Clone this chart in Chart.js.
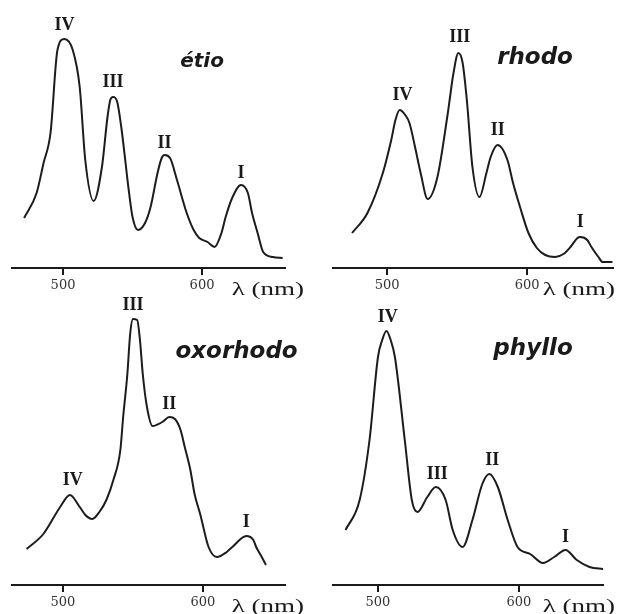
<!DOCTYPE html>
<html>
<head>
    <title>Spectres d'absorption des porphyrines</title>
    <style>
        html, body { margin: 0; padding: 0; background: #fff; overflow: hidden; }
        .page { position: relative; width: 621px; height: 614px; }
        canvas { position: absolute; }
    </style>
</head>
<body>
    <div class="page">
        <canvas id="etio" width="310" height="307" style="left:0;top:0"></canvas>
        <canvas id="rhodo" width="311" height="307" style="left:310px;top:0"></canvas>
        <canvas id="oxorhodo" width="310" height="326" style="left:0;top:289px"></canvas>
        <canvas id="phyllo" width="311" height="326" style="left:310px;top:289px"></canvas>
    </div>

    <script src="https://cdn.jsdelivr.net/npm/chart.js"></script>
    <script>
        // wavelength (nm) and relative absorbance
        var etioWl  = [472, 481, 486, 491, 496, 501, 507, 512, 516, 522, 528, 532, 534, 536, 539, 542, 545, 547, 550, 554, 559, 563, 568, 571, 573, 577, 582, 589, 594, 598, 604, 609, 614, 617, 622, 628, 633, 636, 640, 644, 651, 658];
        var etioAbs = [50, 75, 105, 135, 218, 229, 218, 181, 108, 67, 101, 151, 168, 171, 166, 140, 105, 81, 51, 38, 45, 61, 95, 110, 113, 110, 88, 55, 38, 30, 26, 21, 35, 51, 71, 83, 75, 55, 35, 16, 11, 10];

        var rhodoWl  = [475, 486, 497, 503, 506, 509, 513, 516, 520, 524, 529, 536, 543, 545, 547, 551, 554, 557, 561, 566, 571, 574, 579, 586, 590, 595, 601, 607, 613, 620, 626, 631, 636, 638, 643, 646, 651, 654, 661];
        var rhodoAbs = [35, 55, 95, 128, 148, 158, 153, 145, 121, 95, 69, 91, 151, 171, 191, 215, 205, 168, 101, 71, 95, 111, 123, 108, 85, 61, 35, 20, 13, 11, 14, 21, 30, 31, 28, 21, 11, 6, 6];

        var oxoWl  = [474, 486, 498, 505, 512, 516, 521, 526, 531, 536, 541, 543, 546, 548, 550, 553, 555, 557, 560, 564, 571, 576, 580, 584, 587, 591, 594, 598, 604, 610, 617, 621, 631, 636, 638, 642, 645];
        var oxoAbs = [36, 51, 78, 90, 78, 70, 66, 73, 85, 105, 135, 168, 211, 251, 266, 265, 245, 211, 178, 159, 163, 168, 166, 155, 138, 115, 91, 71, 38, 28, 33, 38, 49, 45, 38, 28, 20];

        var phylloWl  = [477, 487, 494, 500, 503, 506, 509, 512, 519, 524, 528, 535, 541, 548, 553, 560, 567, 574, 579, 585, 592, 599, 608, 617, 625, 633, 641, 650, 660];
        var phylloAbs = [55, 85, 145, 228, 245, 254, 245, 228, 145, 85, 73, 88, 98, 85, 55, 38, 65, 101, 111, 98, 65, 38, 31, 22, 28, 35, 25, 18, 16];

        // peak labels IV, III, II, I : position (nm, absorbance)
        var peakNames = ['IV', 'III', 'II', 'I'];
        var etioPeakWl    = [501, 536, 573, 628];
        var etioPeakAbs   = [243, 186, 125, 95];
        var rhodoPeakWl   = [511, 552, 579, 638];
        var rhodoPeakAbs  = [173, 231, 138, 46];
        var oxoPeakWl     = [507, 550, 576, 631];
        var oxoPeakAbs    = [105, 280, 181, 63];
        var phylloPeakWl  = [507, 542, 581, 633];
        var phylloPeakAbs = [268, 111, 125, 48];

        var tickValues = [500, 600];
        var axisUnit = 'λ (nm)';

        function makePanel(id, wl, abs, xMin, xMax, yMax, pad, peakWl, peakAbs, name, nameWl, nameAbs, nameSize) {
            var points = [];
            for (var i = 0; i < wl.length; i++) {
                points.push({ x: wl[i], y: abs[i] });
            }

            var labels = {
                id: 'labels',
                afterDraw: function (chart) {
                    var ctx = chart.ctx;
                    var xs = chart.scales.x;
                    var ys = chart.scales.y;
                    ctx.save();
                    ctx.fillStyle = '#1a1a1a';

                    ctx.font = 'bold 18px "Liberation Serif"';
                    ctx.textAlign = 'center';
                    ctx.textBaseline = 'middle';
                    for (var k = 0; k < peakNames.length; k++) {
                        ctx.fillText(peakNames[k], xs.getPixelForValue(peakWl[k]), ys.getPixelForValue(peakAbs[k]));
                    }

                    ctx.font = 'italic bold ' + nameSize + 'px "DejaVu Sans"';
                    ctx.textBaseline = 'alphabetic';
                    ctx.fillText(name, xs.getPixelForValue(nameWl), ys.getPixelForValue(nameAbs));

                    // unit under the right end of the axis, drawn wide like the original
                    ctx.translate(chart.width - 6, chart.chartArea.bottom + 27);
                    ctx.scale(1.5, 1);
                    ctx.font = '18px "Liberation Serif"';
                    ctx.textAlign = 'right';
                    ctx.fillText(axisUnit, 0, 0);
                    ctx.restore();
                }
            };

            return new Chart(document.getElementById(id), {
                type: 'line',
                data: {
                    datasets: [{
                        data: points,
                        borderColor: '#1c1c1c',
                        borderWidth: 2,
                        pointRadius: 0,
                        fill: false,
                        cubicInterpolationMode: 'monotone'
                    }]
                },
                options: {
                    responsive: false,
                    animation: false,
                    layout: { padding: pad },
                    plugins: { legend: { display: false }, tooltip: { enabled: false } },
                    scales: {
                        x: {
                            type: 'linear',
                            min: xMin,
                            max: xMax,
                            afterBuildTicks: function (scale) {
                                scale.ticks = tickValues.map(function (v) { return { value: v }; });
                            },
                            afterFit: function (scale) { scale.height = 30; },
                            border: { display: true, color: '#1a1a1a', width: 2 },
                            grid: { drawOnChartArea: false, drawTicks: true, tickLength: 7, color: '#1a1a1a', lineWidth: 2 },
                            ticks: {
                                color: '#333',
                                padding: 3,
                                maxRotation: 0,
                                font: { family: 'DejaVu Serif', size: 13 }
                            }
                        },
                        y: { display: false, min: 0, max: yMax }
                    }
                },
                plugins: [labels]
            });
        }

        makePanel('etio', etioWl, etioAbs, 463.3, 659.7, 268,
            { left: 12, right: 25, top: 0, bottom: 9 },
            etioPeakWl, etioPeakAbs, 'étio', 600, 201, 20);
        makePanel('rhodo', rhodoWl, rhodoAbs, 461.4, 661.4, 268,
            { left: 23, right: 8, top: 0, bottom: 9 },
            rhodoPeakWl, rhodoPeakAbs, 'rhodo', 605.7, 204, 23);
        makePanel('oxorhodo', oxoWl, oxoAbs, 463.6, 658.6, 278,
            { left: 12, right: 25, top: 18, bottom: 0 },
            oxoPeakWl, oxoPeakAbs, 'oxorhodo', 624, 227, 23);
        makePanel('phyllo', phylloWl, phylloAbs, 468.1, 659.6, 278,
            { left: 23, right: 18, top: 18, bottom: 0 },
            phylloPeakWl, phylloPeakAbs, 'phyllo', 610, 230, 23);
    </script>
</body>
</html>
